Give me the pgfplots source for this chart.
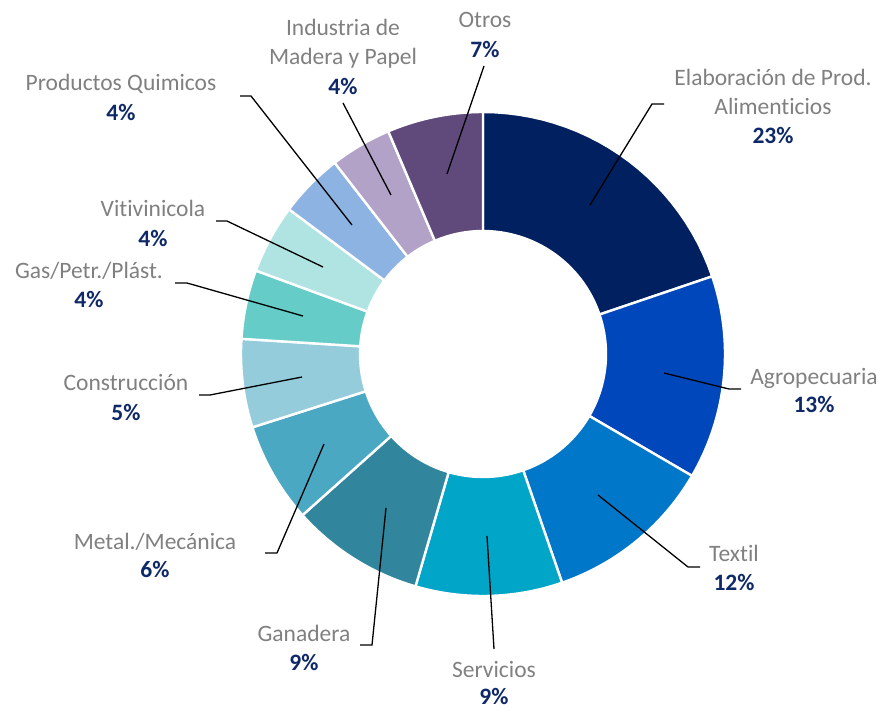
\documentclass[border=0pt]{standalone}
\usepackage{pgfplots}
\pgfplotsset{compat=1.18}
\usepackage{fontspec}
\setmainfont{Carlito}[Ligatures={NoCommon,NoContextual}]
\definecolor{cElab}{RGB}{0,32,96}
\definecolor{cAgro}{RGB}{0,71,187}
\definecolor{cText}{RGB}{0,119,200}
\definecolor{cServ}{RGB}{0,165,200}
\definecolor{cGana}{RGB}{49,133,156}
\definecolor{cMeta}{RGB}{75,168,194}
\definecolor{cCons}{RGB}{148,204,220}
\definecolor{cGas}{RGB}{102,204,200}
\definecolor{cViti}{RGB}{175,228,226}
\definecolor{cQuim}{RGB}{141,179,226}
\definecolor{cMade}{RGB}{178,162,199}
\definecolor{cOtro}{RGB}{96,74,123}
\definecolor{lblgray}{RGB}{128,128,128}
\definecolor{pctblue}{RGB}{14,40,104}
% slice: cumulative start %, cumulative end %, colour
\newcommand{\donutslice}[3]{%
  \addplot[fill=#3, draw=white, line width=2.4pt, line join=round,
    samples at={0,0.04,...,0.97,1,1.0001,1.04,1.08,...,1.97,2}, variable=\t]
  ({483 + (\t<1.00005 ? 242 : 123)*cos(90-3.6*(#1+(#2-#1)*(\t<1.00005 ? \t : 2-\t)))},
   {354 - (\t<1.00005 ? 242 : 123)*sin(90-3.6*(#1+(#2-#1)*(\t<1.00005 ? \t : 2-\t)))}) -- cycle;
}
\newcommand{\lbl}[3]{\node[anchor=base, text=lblgray, inner sep=0pt] at (axis cs:#1,#2) {#3};}
\newcommand{\pct}[3]{\node[anchor=base, text=pctblue, inner sep=0pt, font=\bfseries] at (axis cs:#1,#2) {#3};}
\begin{document}
\begin{tikzpicture}
\begin{axis}[scale only axis, width=884pt, height=710pt,
  xmin=0, xmax=884, ymin=0, ymax=710, y dir=reverse,
  hide axis, clip=false, axis equal=false]
\path (axis cs:0,0) rectangle (axis cs:884,710);
% cumulative shares read from the drawn slice boundaries
\donutslice{0}{19.8}{cElab}
\donutslice{19.8}{33.4}{cAgro}
\donutslice{33.4}{44.7}{cText}
\donutslice{44.7}{54.5}{cServ}
\donutslice{54.5}{63.4}{cGana}
\donutslice{63.4}{70.1}{cMeta}
\donutslice{70.1}{76.0}{cCons}
\donutslice{76.0}{80.6}{cGas}
\donutslice{80.6}{85.2}{cViti}
\donutslice{85.2}{89.5}{cQuim}
\donutslice{89.5}{93.6}{cMade}
\donutslice{93.6}{100}{cOtro}
% leader lines
\draw[black, line width=1.3pt] (axis cs:590,205) -- (axis cs:652,104) -- (axis cs:664,104);
\draw[black, line width=1.3pt] (axis cs:664,373) -- (axis cs:729,389) -- (axis cs:741,389);
\draw[black, line width=1.3pt] (axis cs:598,495) -- (axis cs:688,567) -- (axis cs:700,567);
\draw[black, line width=1.3pt] (axis cs:487,536) -- (axis cs:494,649);
\draw[black, line width=1.3pt] (axis cs:386,508) -- (axis cs:372,645) -- (axis cs:360,645);
\draw[black, line width=1.3pt] (axis cs:324,444) -- (axis cs:277,553) -- (axis cs:265,553);
\draw[black, line width=1.3pt] (axis cs:302,377) -- (axis cs:210,395) -- (axis cs:199,395);
\draw[black, line width=1.3pt] (axis cs:303,316) -- (axis cs:187,283) -- (axis cs:175,283);
\draw[black, line width=1.3pt] (axis cs:323,267) -- (axis cs:227,221) -- (axis cs:216,221);
\draw[black, line width=1.3pt] (axis cs:352,225) -- (axis cs:251,96) -- (axis cs:240,96);
\draw[black, line width=1.3pt] (axis cs:391,195) -- (axis cs:343,103);
\draw[black, line width=1.3pt] (axis cs:447,174) -- (axis cs:484,66);
% labels
\fontsize{23.5}{29}\selectfont
\lbl{773}{85}{Elaboración de Prod.}
\lbl{773}{114}{Alimenticios}
\pct{773}{143}{23\%}
\lbl{814}{384}{Agropecuaria}
\pct{814}{412}{13\%}
\lbl{734}{561}{Textil}
\pct{734}{590}{12\%}
\lbl{494}{677}{Servicios}
\pct{494}{704}{9\%}
\lbl{304}{641}{Ganadera}
\pct{304}{670}{9\%}
\lbl{155}{549}{Metal./Mecánica}
\pct{155}{577}{6\%}
\lbl{126}{390}{Construcción}
\pct{126}{420}{5\%}
\lbl{89}{278}{Gas/Petr./Plást.}
\pct{89}{307}{4\%}
\lbl{153}{216}{Vitivinicola}
\pct{153}{246}{4\%}
\lbl{121}{90}{Productos Quimicos}
\pct{121}{120}{4\%}
\lbl{343}{35}{Industria de}
\lbl{343}{64}{Madera y Papel}
\pct{343}{94}{4\%}
\lbl{485}{27}{Otros}
\pct{485}{57}{7\%}
\end{axis}
\end{tikzpicture}
\end{document}
